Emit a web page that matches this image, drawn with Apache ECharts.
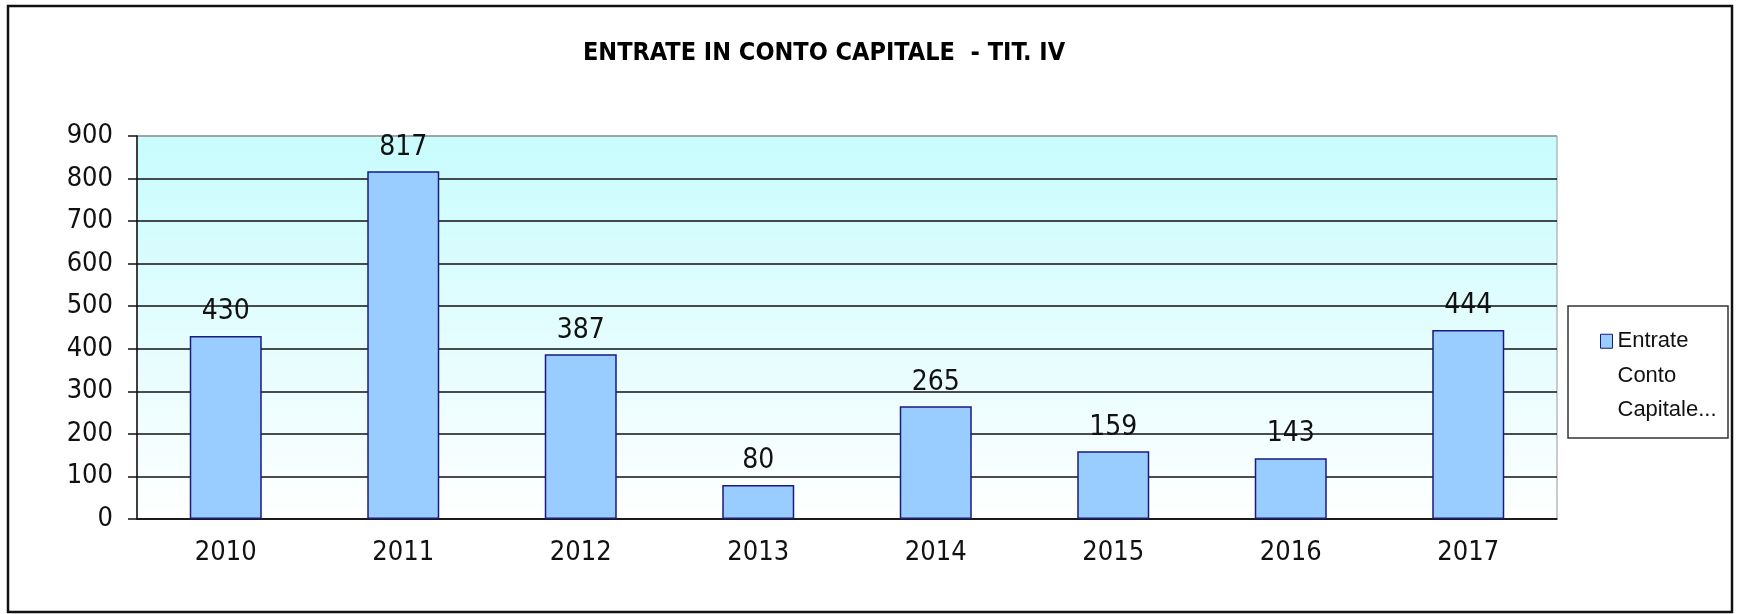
<!DOCTYPE html>
<html>
<head>
<meta charset="utf-8">
<script src="https://cdn.jsdelivr.net/npm/echarts@6/dist/echarts.min.js"></script>
<style>
  html, body { margin: 0; padding: 0; background: #fff; }
  #chartDiv { width: 1738px; height: 614px; }
</style>
</head>
<body>
<div id="chartDiv"></div>
<script>
// dati del grafico
var anni = ['2010', '2011', '2012', '2013', '2014', '2015', '2016', '2017'];
var entrate = [430, 817, 387, 80, 265, 159, 143, 444];
var nomeSerie = 'Entrate Conto Capitale...';
var titolo = 'ENTRATE IN CONTO CAPITALE  - TIT. IV';

var narrow = '"Liberation Sans Narrow", "Arial Narrow", "DejaVu Sans Condensed", sans-serif';

var chart = echarts.init(document.getElementById('chartDiv'));

var option = {
  animation: false,
  backgroundColor: '#fff',
  title: {
    text: titolo,
    left: 583,
    top: 41,
    padding: 0,
    textStyle: { fontFamily: narrow, fontWeight: 'bold', fontSize: 25, color: '#000' }
  },
  legend: {
    data: [nomeSerie],
    left: 1600,
    top: 255,
    padding: 0,
    itemWidth: 12,
    itemHeight: 14,
    icon: 'rect',
    itemStyle: { color: '#99CCFF', borderColor: '#1a1a80', borderWidth: 1 },
    // due righe vuote davanti: l'icona resta allineata alla prima riga
    formatter: function (name) { return '\n\n' + name.split(' ').join('\n'); },
    textStyle: {
      fontFamily: '"Liberation Sans", Arial, sans-serif',
      fontSize: 22, lineHeight: 34.5, color: '#111'
    }
  },
  grid: {
    left: 137, right: 181, top: 136, bottom: 95,
    show: true,
    borderColor: '#999',
    borderWidth: 1,
    backgroundColor: new echarts.graphic.LinearGradient(0, 0, 0, 1, [
      { offset: 0, color: '#C8FCFD' },
      { offset: 0.6, color: '#E8FDFE' },
      { offset: 1, color: '#FFFFFF' }
    ])
  },
  xAxis: {
    type: 'category',
    data: anni,
    axisLine: { lineStyle: { color: '#111', width: 1.5 } },
    axisTick: { length: 11, lineStyle: { color: '#111', width: 1.5 } },
    axisLabel: { margin: 20, fontFamily: narrow, fontSize: 27, color: '#111' }
  },
  yAxis: {
    type: 'value',
    min: 0, max: 900, interval: 100,
    axisLine: { show: true, lineStyle: { color: '#111', width: 1.5 } },
    axisTick: { show: true, length: 9, lineStyle: { color: '#111', width: 1.5 } },
    axisLabel: { margin: 24, fontFamily: narrow, fontSize: 27, color: '#111' },
    splitLine: {
      lineStyle: {
        color: ['#111', '#111', '#111', '#111', '#111', '#111', '#111', '#111', '#111', '#999'],
        width: 1.5
      }
    }
  },
  series: [{
    name: nomeSerie,
    type: 'bar',
    data: entrate,
    barWidth: 72,
    itemStyle: { color: '#99CCFF', borderColor: '#1a1a80', borderWidth: 1.5 },
    label: {
      show: true, position: 'top', distance: 10,
      fontFamily: narrow, fontSize: 28, color: '#111'
    }
  }],
  graphic: [
    {
      type: 'rect', silent: true,
      shape: { x: 8, y: 6, width: 1724, height: 606 },
      style: { fill: 'none', stroke: '#111', lineWidth: 2.5 }
    },
    {
      type: 'rect', silent: true,
      shape: { x: 1568, y: 306, width: 160, height: 132 },
      style: { fill: 'none', stroke: '#333', lineWidth: 1.5 }
    }
  ]
};

chart.setOption(option);
</script>
</body>
</html>
